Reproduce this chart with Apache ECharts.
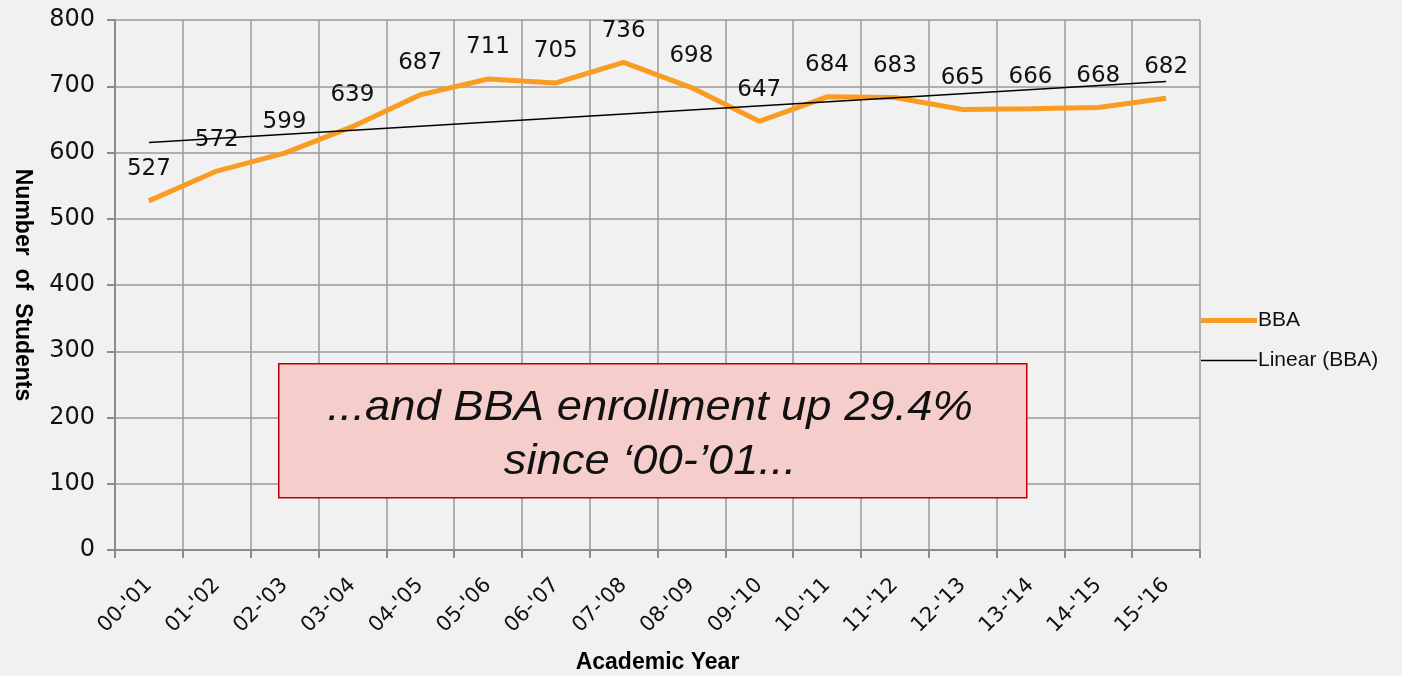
<!DOCTYPE html>
<html>
<head>
<meta charset="utf-8">
<script src="https://cdn.jsdelivr.net/npm/echarts@6/dist/echarts.min.js"></script>
<style>
html,body{margin:0;padding:0;background:#f1f1f1;}
#c{width:1402px;height:676px;}
</style>
</head>
<body>
<div id="c"></div>
<script>
const categories = ["00-'01","01-'02","02-'03","03-'04","04-'05","05-'06","06-'07","07-'08","08-'09","09-'10","10-'11","11-'12","12-'13","13-'14","14-'15","15-'16"];
const bbaValues = [527,572,599,639,687,711,705,736,698,647,684,683,665,666,668,682];
// Trendline endpoints: [categoryIndex, value]
const trendPoints = [[0,615],[15,707]];
const yTicks = {min:0, max:800, interval:100};

const chart = echarts.init(document.getElementById('c'));
const font = 'Liberation Sans, Arial, sans-serif';
const numFont = 'DejaVu Sans, Verdana, sans-serif';
chart.setOption({
  backgroundColor:'#f1f1f1',
  animation:false,
  grid:{left:115,right:202,top:20,bottom:126,containLabel:false,outerBoundsMode:'none'},
  legend:{
    orient:'vertical', left:1196, top:305, itemGap:19, itemWidth:56, itemHeight:20,
    textStyle:{fontFamily:font,fontSize:21,color:'#111',padding:[0,0,0,-4]},
    data:[
      {name:'BBA',icon:'path://M0,0H56V5H0Z'},
      {name:'Linear (BBA)',icon:'path://M0,0H56V1.5H0Z'}
    ]
  },
  xAxis:{
    type:'category', data:categories, boundaryGap:true,
    axisLine:{lineStyle:{color:'#8c8c8c',width:2}},
    axisTick:{show:true,length:8,interval:0,lineStyle:{color:'#8c8c8c',width:2}},
    splitLine:{show:true,interval:0,lineStyle:{color:'#9a9a9a',width:1.5}},
    axisLabel:{rotate:45,interval:0,fontFamily:numFont,fontSize:21,color:'#111',margin:32},
    name:'Academic Year', nameLocation:'middle', nameGap:101,
    nameTextStyle:{fontFamily:font,fontWeight:'bold',fontSize:23,color:'#000'}
  },
  yAxis:{
    type:'value', min:yTicks.min, max:yTicks.max, interval:yTicks.interval,
    axisLine:{show:true,lineStyle:{color:'#8c8c8c',width:2}},
    axisTick:{show:true,length:8,lineStyle:{color:'#8c8c8c',width:2}},
    splitLine:{show:true,lineStyle:{color:'#9a9a9a',width:1.5}},
    axisLabel:{fontFamily:numFont,fontSize:24,color:'#111',margin:20},
    name:'Number  of  Students', nameLocation:'middle', nameRotate:-90, nameGap:81,
    nameTextStyle:{fontFamily:font,fontWeight:'bold',fontSize:23,color:'#000'}
  },
  series:[
    {
      name:'BBA', type:'line', data:bbaValues, symbol:'circle', symbolSize:0, showSymbol:true, smooth:false,
      lineStyle:{color:'#f89c22',width:5}, itemStyle:{color:'#f89c22'},
      label:{show:true,position:'top',distance:20,fontFamily:numFont,fontSize:23,color:'#111'},
      labelLayout:{hideOverlap:false},
      z:3
    },
    {
      name:'Linear (BBA)', type:'line', data:trendPoints, symbol:'none',
      lineStyle:{color:'#000',width:1.5}, itemStyle:{color:'#000'}, z:4
    }
  ],
  graphic:[
    {type:'rect',left:278,top:363,shape:{width:748,height:134},
     style:{fill:'#f5cdca',stroke:'#c00000',lineWidth:1.5},z:10},
    {type:'text',x:650,y:408,z:11,scaleX:1.08,
     style:{text:'...and BBA enrollment up 29.4%',font:'italic 42px Liberation Sans, Arial, sans-serif',fill:'#111',textAlign:'center',textVerticalAlign:'middle'}},
    {type:'text',x:650,y:462,z:11,scaleX:1.08,
     style:{text:'since ‘00-’01...',font:'italic 42px Liberation Sans, Arial, sans-serif',fill:'#111',textAlign:'center',textVerticalAlign:'middle'}}
  ]
});
</script>
</body>
</html>
